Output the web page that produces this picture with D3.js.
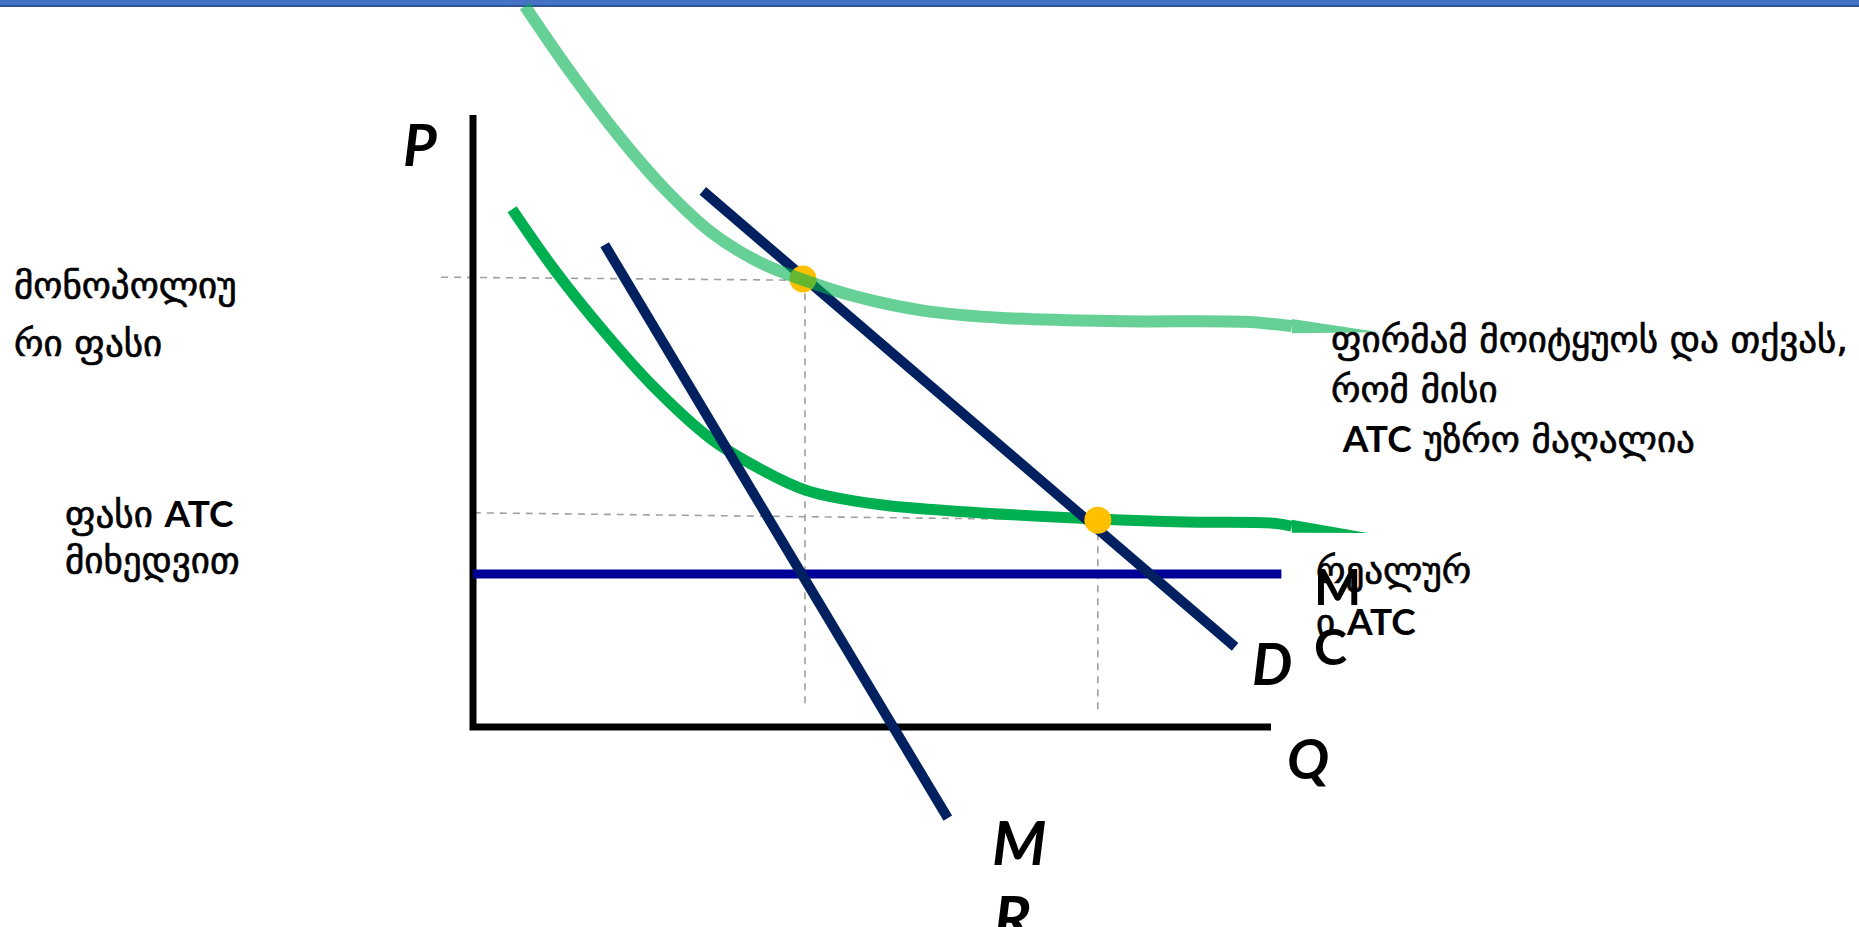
<!DOCTYPE html>
<html>
<head>
<meta charset="utf-8">
<script src="https://cdn.jsdelivr.net/npm/d3@7"></script>
<style>
  html, body { margin: 0; padding: 0; background: #ffffff; }
  svg { display: block; }
</style>
</head>
<body>
<svg id="chart" width="1859" height="927"></svg>
<script>
// ---------- data (Q, P in chart units: axes run 0..100) ----------
const upperATC = [[6.5,117.8],[12.0,107.4],[18.0,97.0],[23.9,88.1],[29.8,80.9],[35.8,76.0],[41.1,73.2],[47.8,70.4],[56.6,68.0],[67.0,66.8],[81.8,66.3],[96.7,66.2],[102.6,65.5]];
const upperTip = [113.6, 64.5];
const lowerATC = [[4.9,84.6],[10.5,74.2],[16.5,64.5],[22.4,55.9],[29.8,47.1],[35.8,42.3],[41.7,38.7],[50.6,36.4],[62.5,35.1],[78.3,34.0],[89.3,33.5],[100.4,33.3],[102.6,32.8]];
const lowerTip = [112.1, 31.7];
const demand = [[28.8,87.6],[95.5,13.1]];
const marginalRevenue = [[16.5,78.8],[59.5,-14.9]];
const realATC = [[0,25.0],[101.3,25.0]];
const equilibria = [[41.35,73.2],[78.3,33.8]];
const guideH = [[[-4.0,73.5],[41.35,73.0]], [[0.1,35.0],[78.3,33.8]]];
const guideV = [[[41.6,73.0],[41.6,3.1]], [[78.3,33.8],[78.3,2.6]]];
const axisLen = [100, 100];

const leftLabel1 = ["მონოპოლიუ", "რი ფასი"];
const leftLabel2 = ["ფასი ATC", "მიხედვით"];
const rightLabel = ["ფირმამ მოიტყუოს და თქვას,", "რომ მისი", " ATC უზრო მაღალია"];
const realLabel = ["რეალურ", "ი ATC"];
const axisLabels = ["P", "Q"];
const curveLabels = { D: "D", MR: ["M", "R"], MC: ["M", "C"] };

// ---------- scales ----------
const svg = d3.select("#chart");
const x = d3.scaleLinear().domain([0, 100]).range([473, 1271]);
const y = d3.scaleLinear().domain([0, 100]).range([727, 115]);

// top banner
svg.append("rect").attr("x", 0).attr("y", 0).attr("width", 1859).attr("height", 5).attr("fill", "#4472C4");
svg.append("rect").attr("x", 0).attr("y", 5).attr("width", 1859).attr("height", 2).attr("fill", "#2F5597");

const line = d3.line().x(d => x(d[0])).y(d => y(d[1]));
const smooth = d3.line().x(d => x(d[0])).y(d => y(d[1])).curve(d3.curveCatmullRom.alpha(0.5));

function taper(g, pts, tip, w, color, opacity) {
  const a = pts[pts.length - 1];
  const ax = x(a[0]), ay = y(a[1]);
  const tx = x(tip[0]), ty = y(tip[1]);
  const poly = [[ax, ay - w * 0.6], [tx, ty], [ax, ay + w * 0.6]];
  g.append("path").attr("d", d3.line()(poly) + "Z").attr("fill", color).attr("opacity", opacity);
}

// dashed guides
const guides = svg.append("g").attr("stroke", "#A0A0A0").attr("stroke-width", 1.6)
  .attr("stroke-dasharray", "7,6").attr("fill", "none");
guideH.concat(guideV).forEach(seg => guides.append("path").attr("d", line(seg)));

// axes
const axes = svg.append("g").attr("stroke", "#000").attr("stroke-width", 7).attr("fill", "none");
axes.append("path").attr("d", line([[0, axisLen[1]], [0, 0], [axisLen[0], 0]])).attr("stroke-linejoin", "miter");

// lower ATC (solid green)
const lowG = svg.append("g");
lowG.append("path").attr("d", smooth(lowerATC)).attr("stroke", "#00B050").attr("stroke-width", 11).attr("fill", "none");
taper(lowG, lowerATC, lowerTip, 11, "#00B050", 1);

// real ATC / MC line
svg.append("path").attr("d", line(realATC)).attr("stroke", "#000099").attr("stroke-width", 9).attr("fill", "none");

// demand and MR
svg.append("path").attr("d", line(demand)).attr("stroke", "#002060").attr("stroke-width", 10).attr("fill", "none");
svg.append("path").attr("d", line(marginalRevenue)).attr("stroke", "#002060").attr("stroke-width", 10).attr("fill", "none");

// equilibrium dots
svg.selectAll("circle.eq").data(equilibria).enter().append("circle")
  .attr("class", "eq").attr("cx", d => x(d[0])).attr("cy", d => y(d[1])).attr("r", 13.5).attr("fill", "#FFC000");

// upper ATC (transparent green, on top)
const upG = svg.append("g").attr("opacity", 0.6);
upG.append("path").attr("d", smooth(upperATC)).attr("stroke", "#00B050").attr("stroke-width", 12).attr("fill", "none");
taper(upG, upperATC, upperTip, 12, "#00B050", 1);

// ---------- text ----------
const geo = "'DejaVu Sans', sans-serif";
const lat = "Lato, 'Open Sans', sans-serif";

function block(lines, x0, y0, dy, size) {
  const t = svg.append("text").attr("font-family", geo).attr("font-size", size).attr("fill", "#000")
    .attr("stroke", "#000").attr("stroke-width", 0.7);
  lines.forEach((s, i) => {
    const ts = t.append("tspan").attr("x", x0).attr("y", y0 + i * dy);
    const parts = s.split(/(ATC)/);
    parts.forEach(p => {
      if (!p) return;
      const sp = ts.append("tspan").text(p);
      if (p === "ATC") sp.attr("font-family", lat).attr("font-weight", 700).attr("stroke", "none").attr("font-size", size);
    });
  });
}
block(leftLabel1, 14, 298, 58, 37);
block(leftLabel2, 65, 527, 46, 37);
block(rightLabel, 1331, 352, 50, 37);
block(realLabel, 1316, 583, 52, 37);

function lab(s, x0, y0, size, italic) {
  svg.append("text").attr("x", x0).attr("y", y0).attr("font-family", lat).attr("font-weight", 700)
    .attr("font-style", italic ? "italic" : "normal").attr("font-size", size).attr("fill", "#000").text(s);
}
lab(axisLabels[0], 403, 166, 58, true);
lab(axisLabels[1], 1287, 779, 56, true);
lab(curveLabels.D, 1252, 685, 57, true);
lab(curveLabels.MR[0], 992, 865, 62, true);
lab(curveLabels.MR[1], 994, 940, 62, true);
lab(curveLabels.MC[0], 1314, 605, 50, false);
lab(curveLabels.MC[1], 1314, 665, 50, false);
</script>
</body>
</html>
